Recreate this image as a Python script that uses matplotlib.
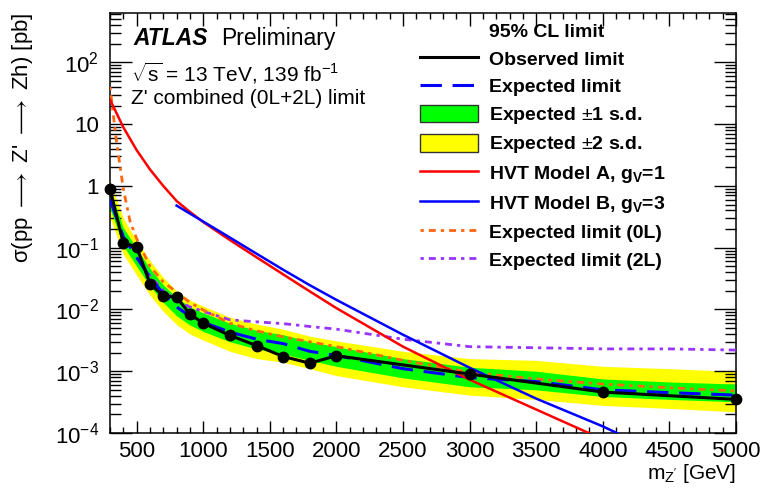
import numpy as np
import matplotlib
matplotlib.use("Agg")
import matplotlib.pyplot as plt
from matplotlib.lines import Line2D
from matplotlib.patches import Patch
from matplotlib.ticker import MultipleLocator, FixedLocator, LogLocator, NullFormatter

plt.rcParams['font.family'] = ['Liberation Sans', 'DejaVu Sans']
plt.rcParams['mathtext.fontset'] = 'custom'
plt.rcParams['mathtext.rm'] = 'Liberation Sans'
plt.rcParams['mathtext.it'] = 'Liberation Sans:italic'
plt.rcParams['mathtext.bf'] = 'Liberation Sans:bold'

# observed limit
obs_mass = [300, 400, 500, 600, 700, 800, 900, 1000, 1200, 1400, 1600, 1800, 2000, 3000, 4000, 5000]
obs_xs = [0.9, 0.118, 0.104, 0.026, 0.0166, 0.0158, 0.0084, 0.006, 0.0038, 0.0026,
          0.00173, 0.00135, 0.00178, 0.0009, 0.00046, 0.00035]

# expected limit and bands
exp_mass = [300, 400, 500, 600, 700, 800, 900, 1000, 1200, 1400, 1600, 1800, 2000, 2500, 3000, 3500, 4000, 4500, 5000]
exp_xs = [0.6, 0.15, 0.07, 0.033, 0.018, 0.011, 0.0078, 0.0062, 0.0043, 0.0033, 0.0028, 0.0021,
          0.0018, 0.0011, 0.00079, 0.00068, 0.0005, 0.00045, 0.00041]
exp_p2 = [1.2, 0.3, 0.13, 0.062, 0.033, 0.02, 0.0142, 0.0113, 0.0075, 0.0058, 0.0048, 0.0037,
          0.0031, 0.0021, 0.0016, 0.0015, 0.0012, 0.0011, 0.00099]
exp_p1 = [0.85, 0.21, 0.098, 0.046, 0.025, 0.0156, 0.011, 0.0088, 0.006, 0.0046, 0.0039, 0.003,
          0.0025, 0.0016, 0.00116, 0.001, 0.00075, 0.00067, 0.00062]
exp_m1 = [0.43, 0.108, 0.05, 0.024, 0.013, 0.0079, 0.0056, 0.0044, 0.003, 0.0023, 0.0019, 0.0015,
          0.0012, 0.00078, 0.00056, 0.0005, 0.00039, 0.00035, 0.00032]
exp_m2 = [0.31, 0.078, 0.036, 0.017, 0.0093, 0.0057, 0.004, 0.0032, 0.0021, 0.0016, 0.0014, 0.0011,
          0.00085, 0.00056, 0.00041, 0.00035, 0.00028, 0.00025, 0.00022]

# channel expected limits
exp0l_mass = [300, 350, 400, 450, 500, 600, 700, 800, 900, 1000, 1200, 1400, 1600, 1800, 2000,
              2500, 3000, 3500, 4000, 4500, 5000]
exp0l_xs = [40, 5, 0.9, 0.27, 0.14, 0.05, 0.028, 0.019, 0.013, 0.0098, 0.006, 0.0045, 0.0036,
            0.003, 0.0025, 0.0015, 0.00096, 0.00075, 0.00062, 0.00054, 0.00048]
exp2l_mass = [500, 600, 700, 800, 900, 1000, 1200, 1400, 1600, 1800, 2000, 2500, 3000, 3500, 4000, 4500, 5000]
exp2l_xs = [0.07, 0.035, 0.02, 0.014, 0.011, 0.0093, 0.0068, 0.0063, 0.0059, 0.0053, 0.0048,
            0.0033, 0.0025, 0.0024, 0.0023, 0.0023, 0.0022]

# HVT theory curves
hvtA_mass = [300, 400, 500, 600, 700, 800, 900, 1000, 1200, 1400, 1600, 1800, 2000, 2500, 3000, 3500, 4000]
hvtA_xs = [25, 8.9, 3.8, 1.85, 1.0, 0.57, 0.38, 0.26, 0.133, 0.07, 0.037, 0.0196, 0.0105, 0.0025,
           0.00073, 0.00024, 7.9e-5]
hvtB_mass = [800, 1000, 1200, 1400, 1600, 1800, 2000, 2500, 3000, 3500, 4000, 4200]
hvtB_xs = [0.48, 0.265, 0.146, 0.08, 0.044, 0.0247, 0.0143, 0.0039, 0.00114, 0.00036, 0.000128, 0.00008]

ytick_vals = [1e-4, 1e-3, 1e-2, 1e-1, 1, 10, 100]
ytick_labels = ['$10^{-4}$', '$10^{-3}$', '$10^{-2}$', '$10^{-1}$', '1', '10', '$10^{2}$']

fig = plt.figure(figsize=(7.82, 4.88), dpi=100)
ax = fig.add_axes([110 / 782, 1 - 433 / 488, 626 / 782, 420 / 488])

dashdot = (0, (1.2, 1.8, 2.5, 1.8))
ax.fill_between(exp_mass, exp_m2, exp_p2, color='#ffff00', lw=0, zorder=1)
ax.fill_between(exp_mass, exp_m1, exp_p1, color='#00ff00', lw=0, zorder=2)
ax.plot(exp2l_mass, exp2l_xs, color='#9933ff', lw=2.0, ls=dashdot, zorder=3)
ax.plot(exp0l_mass, exp0l_xs, color='#ff6611', lw=2.0, ls=dashdot, zorder=3)
ax.plot(exp_mass, exp_xs, color='#0000ff', lw=2.2, ls=(0, (7, 3.5)), zorder=4)
ax.plot(hvtA_mass, hvtA_xs, color='#ff0000', lw=1.8, zorder=5)
ax.plot(hvtB_mass, hvtB_xs, color='#0000ff', lw=1.8, zorder=5)
ax.plot(obs_mass, obs_xs, color='black', lw=2.2, marker='o', ms=7.5, zorder=6, clip_on=False)

ax.set_yscale('log')
ax.set_xlim(300, 5000)
ax.set_ylim(1e-4, 630)

ax.xaxis.set_major_locator(FixedLocator([500, 1000, 1500, 2000, 2500, 3000, 3500, 4000, 4500, 5000]))
ax.xaxis.set_minor_locator(MultipleLocator(100))
ax.yaxis.set_major_locator(FixedLocator(ytick_vals))
ax.set_yticklabels(ytick_labels)
ax.yaxis.set_minor_locator(LogLocator(base=10, subs=np.arange(2, 10)))
ax.yaxis.set_minor_formatter(NullFormatter())

ax.tick_params(which='both', direction='in', top=True, right=True, labelsize=16, width=1.0)
ax.tick_params(axis='x', which='major', length=9, pad=6)
ax.tick_params(axis='x', which='minor', length=4.5)
ax.tick_params(axis='y', which='major', length=16, pad=8)
ax.tick_params(axis='y', which='minor', length=8)
for sp in ax.spines.values():
    sp.set_linewidth(1.1)

ax.set_ylabel(r"σ(pp $\longrightarrow$ Z' $\longrightarrow$ Zh) [pb]", fontsize=16, loc='top', labelpad=14)
fig.text(736 / 782, 1 - 479 / 488, r"m$_{\mathregular{Z'}}$ [GeV]", fontsize=15, ha='right', va='baseline')

fig.text(133 / 782, 1 - 45 / 488, 'ATLAS', fontsize=16.5, fontweight='bold', fontstyle='italic')
fig.text(221 / 782, 1 - 45 / 488, 'Preliminary', fontsize=16.5)
fig.text(131 / 782, 1 - 82 / 488, r'$\sqrt{\mathregular{s}}$ = 13 TeV, 139 fb$^{-1}$', fontsize=15)
fig.text(131 / 782, 1 - 104 / 488, "Z' combined (0L+2L) limit", fontsize=15)

handles = [
    Line2D([], [], color='none'),
    Line2D([], [], color='black', lw=2.2),
    Line2D([], [], color='#0000ff', lw=2.2, ls=(0, (7, 3.5))),
    Patch(facecolor='#00ff00', edgecolor='#333333', lw=1),
    Patch(facecolor='#ffff00', edgecolor='#333333', lw=1),
    Line2D([], [], color='#ff0000', lw=1.8),
    Line2D([], [], color='#0000ff', lw=1.8),
    Line2D([], [], color='#ff6611', lw=2.0, ls=dashdot),
    Line2D([], [], color='#9933ff', lw=2.0, ls=dashdot),
]
labels = ['95% CL limit', 'Observed limit', 'Expected limit', r'Expected $\pm$1 s.d.',
          r'Expected $\pm$2 s.d.', r'HVT Model A, g$_{\mathbf{V}}$=1', r'HVT Model B, g$_{\mathbf{V}}$=3',
          'Expected limit (0L)', 'Expected limit (2L)']
leg = ax.legend(handles, labels, loc='upper left', bbox_to_anchor=(420 / 782, 1 - 22 / 488),
                bbox_transform=fig.transFigure, frameon=False, borderpad=0, borderaxespad=0,
                handlelength=3.0, handleheight=1.0, handletextpad=0.55, labelspacing=0.42,
                prop={'size': 14, 'weight': 'bold'})

fig.savefig('out.png', dpi=100)
